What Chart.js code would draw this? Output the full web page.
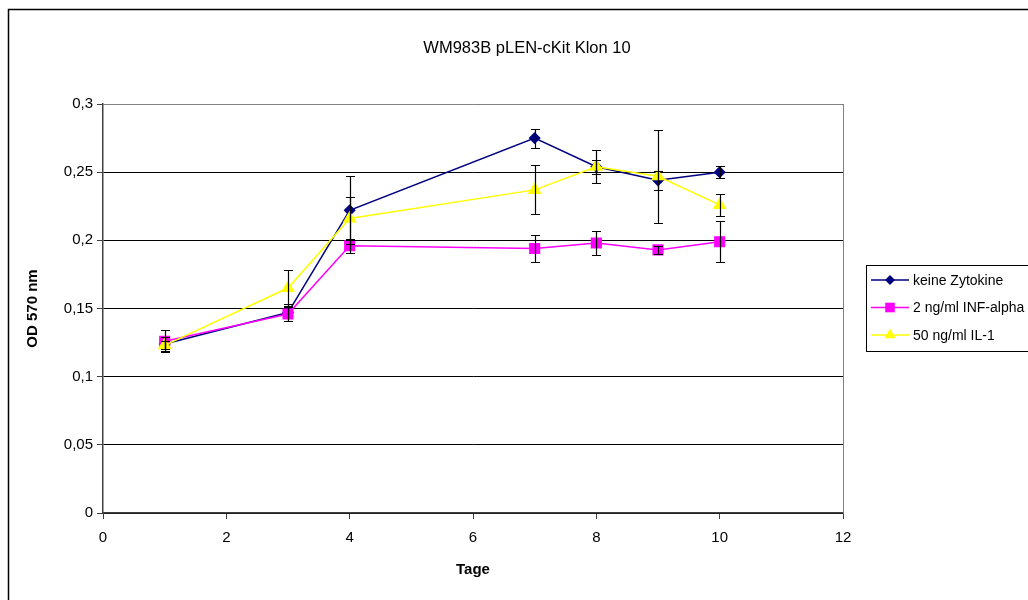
<!DOCTYPE html>
<html>
<head>
<meta charset="utf-8">
<script src="https://cdn.jsdelivr.net/npm/chart.js@4/dist/chart.umd.min.js"></script>
<style>
  html, body { margin: 0; padding: 0; background: #fff; }
  canvas { display: block; }
</style>
</head>
<body>
<canvas id="chart" width="1028" height="600"></canvas>
<script>
const FONT = "'Liberation Sans', Arial, sans-serif";

// Tage
const days = [1, 3, 4, 7, 8, 9, 10];

// OD 570 nm, Mittelwerte und Fehler
const keineZytokine = [0.124, 0.147, 0.222, 0.275, 0.254, 0.244, 0.250];
const keineZytokineErr = [0.005, 0.006, 0.025, 0.007, 0.005, 0.007, 0.0045];
const infAlpha = [0.126, 0.146, 0.196, 0.194, 0.198, 0.193, 0.199];
const infAlphaErr = [0.008, 0.005, 0.005, 0.010, 0.009, 0.003, 0.015];
const il1 = [0.123, 0.165, 0.216, 0.237, 0.254, 0.247, 0.226];
const il1Err = [0.003, 0.013, 0.016, 0.018, 0.012, 0.034, 0.008];

const seriesLabels = ["keine Zytokine", "2 ng/ml INF-alpha", "50 ng/ml IL-1"];
const xTicks = [0, 2, 4, 6, 8, 10, 12];

function toPoints(values) {
  return values.map((v, i) => ({ x: days[i], y: v }));
}

// Fehlerbalken über die Skalen zeichnen
const errorBars = {
  id: "errorBars",
  afterDatasetsDraw(chart) {
    const ctx = chart.ctx;
    const yScale = chart.scales.y;
    ctx.save();
    ctx.strokeStyle = "#000";
    ctx.lineWidth = 1.2;
    chart.data.datasets.forEach((ds, di) => {
      const meta = chart.getDatasetMeta(di);
      ds.errors.forEach((e, i) => {
        const pt = meta.data[i];
        const x = Math.round(pt.x) + 0.5;
        const yTop = Math.round(yScale.getPixelForValue(ds.data[i].y + e)) + 0.5;
        const yBot = Math.round(yScale.getPixelForValue(ds.data[i].y - e)) + 0.5;
        ctx.beginPath();
        ctx.moveTo(x, yTop);
        ctx.lineTo(x, yBot);
        ctx.moveTo(x - 4.5, yTop);
        ctx.lineTo(x + 4.5, yTop);
        ctx.moveTo(x - 4.5, yBot);
        ctx.lineTo(x + 4.5, yBot);
        ctx.stroke();
      });
    });
    ctx.restore();
  },
};

// Titel, Rahmen und Legende im Excel-Stil
const decorations = {
  id: "decorations",
  beforeDatasetsDraw(chart) {
    const { ctx, chartArea } = chart;
    ctx.save();
    ctx.strokeStyle = "#808080";
    ctx.lineWidth = 1;
    ctx.beginPath();
    ctx.moveTo(chartArea.right + 0.5, chartArea.top);
    ctx.lineTo(chartArea.right + 0.5, chartArea.bottom);
    ctx.stroke();
    ctx.restore();
  },
  afterDraw(chart) {
    const ctx = chart.ctx;
    ctx.save();
    // Rahmen
    ctx.strokeStyle = "#000";
    ctx.lineWidth = 1.5;
    ctx.strokeRect(8.5, 9.5, 1100, 700);

    // Titel
    ctx.fillStyle = "#000";
    ctx.font = "16.5px " + FONT;
    ctx.textAlign = "center";
    ctx.textBaseline = "middle";
    ctx.fillText("WM983B pLEN-cKit Klon 10", 527, 48);

    // Legende
    ctx.lineWidth = 1;
    ctx.strokeRect(866.5, 265.5, 200, 86);
    ctx.font = "14px " + FONT;
    ctx.textAlign = "left";
    chart.data.datasets.forEach((ds, i) => {
      const y = 280 + i * 27.5;
      ctx.strokeStyle = ds.borderColor;
      ctx.lineWidth = 1.5;
      ctx.beginPath();
      ctx.moveTo(871, y);
      ctx.lineTo(909, y);
      ctx.stroke();
      ctx.fillStyle = ds.backgroundColor;
      Chart.helpers.drawPoint(ctx, {
        pointStyle: ds.pointStyle,
        radius: ds.pointRadius,
        rotation: 0,
        borderWidth: 0,
      }, 890, y);
      ctx.fillStyle = "#000";
      ctx.fillText(ds.label, 913, y + 1);
    });
    ctx.restore();
  },
};

new Chart(document.getElementById("chart"), {
  type: "line",
  data: {
    datasets: [
      {
        label: seriesLabels[0],
        data: toPoints(keineZytokine),
        errors: keineZytokineErr,
        borderColor: "#000080",
        backgroundColor: "#000080",
        pointStyle: "rectRot",
        pointRadius: 5,
        borderWidth: 1.5,
        order: 2,
      },
      {
        label: seriesLabels[1],
        data: toPoints(infAlpha),
        errors: infAlphaErr,
        borderColor: "#FF00FF",
        backgroundColor: "#FF00FF",
        pointStyle: "rect",
        pointRadius: 6.8,
        borderWidth: 1.5,
        order: 1,
      },
      {
        label: seriesLabels[2],
        data: toPoints(il1),
        errors: il1Err,
        borderColor: "#FFFF00",
        backgroundColor: "#FFFF00",
        pointStyle: "triangle",
        pointRadius: 6.5,
        borderWidth: 1.5,
        order: 0,
      },
    ],
  },
  options: {
    responsive: false,
    animation: false,
    layout: {
      padding: { left: 0, top: 104, right: 185, bottom: 0 },
    },
    elements: {
      line: { tension: 0 },
      point: { borderWidth: 0, hoverRadius: 6 },
    },
    plugins: {
      legend: { display: false },
      title: { display: false },
      tooltip: { enabled: false },
    },
    scales: {
      x: {
        type: "linear",
        min: 0,
        max: 12,
        afterFit: (scale) => { scale.height = 87; },
        afterBuildTicks: (scale) => { scale.ticks = xTicks.map((v) => ({ value: v })); },
        ticks: {
          color: "#000",
          font: { family: FONT, size: 15 },
          padding: 10,
          maxRotation: 0,
        },
        grid: {
          drawOnChartArea: false,
          drawTicks: true,
          tickLength: 6,
          color: "#404040",
        },
        border: { color: "#404040", width: 1.5 },
        title: {
          display: true,
          text: "Tage",
          color: "#000",
          font: { family: FONT, size: 15, weight: "bold" },
          padding: { top: 0, bottom: 21 },
        },
      },
      y: {
        min: 0,
        max: 0.3,
        afterFit: (scale) => { scale.width = 103; },
        ticks: {
          stepSize: 0.05,
          color: "#000",
          font: { family: FONT, size: 15 },
          padding: 4,
          callback: (v) => Number(v.toFixed(2)).toString().replace(".", ","),
        },
        grid: {
          color: (c) => (c.tick && Math.abs(c.tick.value - 0.3) < 1e-6 ? "#808080" : "#000"),
          tickColor: "#404040",
          tickLength: 6,
          lineWidth: 1,
        },
        border: { color: "#404040", width: 1.5 },
        title: {
          display: true,
          text: "OD 570 nm",
          color: "#000",
          font: { family: FONT, size: 15, weight: "bold" },
          padding: { top: 24, bottom: 0 },
        },
      },
    },
  },
  plugins: [decorations, errorBars],
});
</script>
</body>
</html>
